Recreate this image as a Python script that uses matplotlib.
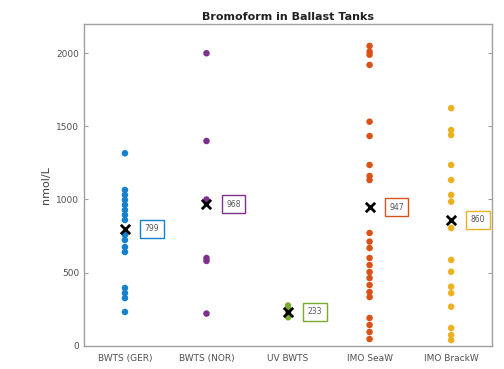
import numpy as np
import matplotlib
matplotlib.use("Agg")
import matplotlib.pyplot as plt

categories = ["BWTS (GER)", "BWTS (NOR)", "UV BWTS", "IMO SeaW", "IMO BrackW"]
colors = ["#1580CC", "#7E2F8E", "#77AC30", "#D95319", "#EDB120"]

ger = [1316, 1065, 1031, 997, 963, 928, 894, 860, 757, 723, 675, 641, 395, 360, 326, 231]
nor = [2000, 1400, 1000, 980, 600, 580, 220]
uv = [275, 250, 230, 210, 195]
seaw = [2050, 2011, 1990, 1920, 1532, 1434, 1236, 1161, 1133, 771, 712, 668, 600,
        552, 504, 463, 415, 367, 333, 190, 142, 94, 46]
brackw = [1624, 1475, 1441, 1236, 1133, 1031, 985, 805, 587, 506, 404, 360, 267,
          121, 73, 39]
series = [ger, nor, uv, seaw, brackw]
means = [799, 968, 233, 947, 860]

fig = plt.figure(figsize=(5.04, 3.69), dpi=100)
ax = fig.add_axes([0.167, 0.063, 0.809, 0.872])

for i, vals in enumerate(series):
    x = np.full(len(vals), i + 1)
    ax.scatter(x, vals, s=22, color=colors[i], edgecolors="none", zorder=3)
    ax.scatter(i + 1, means[i], marker="x", s=45, color="black", linewidths=2, zorder=4)
    ax.text(i + 1.33, means[i], str(means[i]), fontsize=5.5, color="#555555",
            ha="center", va="center",
            bbox=dict(boxstyle="square,pad=0.6", fc="white", ec=colors[i], lw=1))

ax.set_xlim(0.5, 5.5)
ax.set_ylim(0, 2200)
ax.set_xticks(range(1, 6))
ax.set_xticklabels(categories)
ax.set_yticks([0, 500, 1000, 1500, 2000])
ax.set_ylabel("nmol/L", fontsize=8, color="#404040")
ax.set_title("Bromoform in Ballast Tanks", fontsize=8, fontweight="bold", color="#202020", pad=3)

for s in ax.spines.values():
    s.set_color("#a0a0a0")
    s.set_linewidth(1)
ax.tick_params(axis="both", direction="in", length=3, colors="#a0a0a0",
               labelcolor="#505050", labelsize=6.5, top=False, right=True)
ax.tick_params(axis="x", length=0, pad=6)

fig.savefig("out.png", dpi=100)
